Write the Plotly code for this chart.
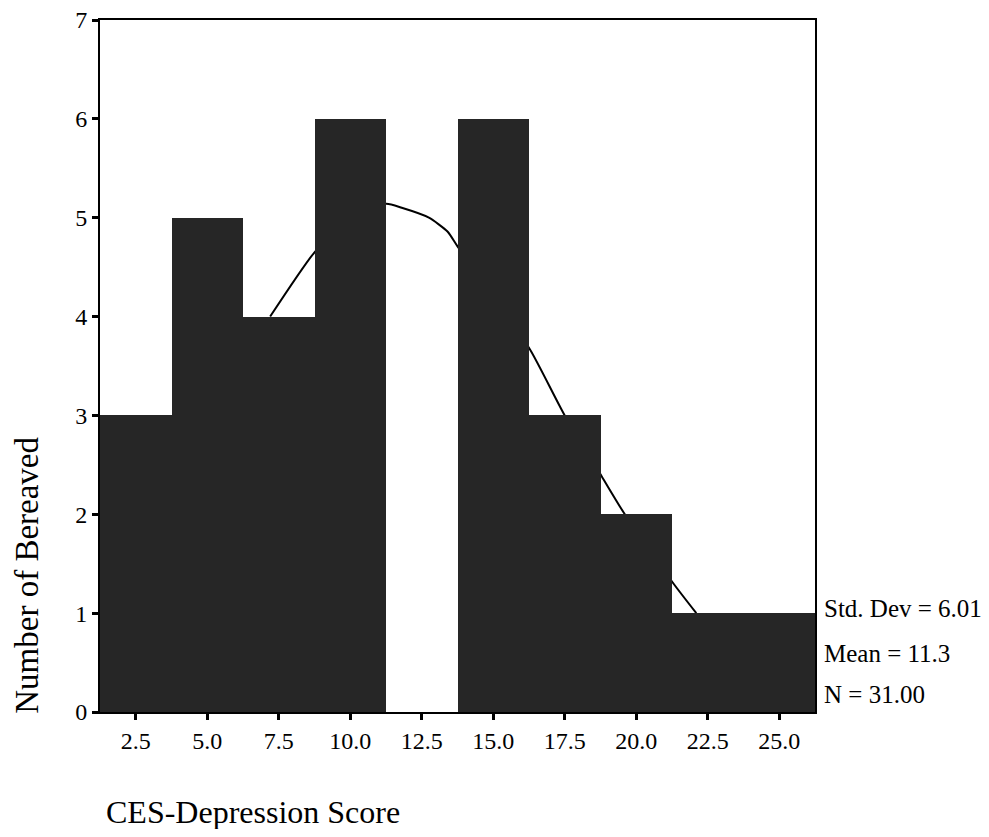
import plotly.graph_objects as go

# Histogram bins (bin midpoints) and counts
bin_mids = [2.5, 5.0, 7.5, 10.0, 12.5, 15.0, 17.5, 20.0, 22.5, 25.0]
counts = [3, 5, 4, 6, 0, 6, 3, 2, 1, 1]
bin_width = 2.5

# Normal curve points
curve_x = [7.2, 8.75, 10.0, 11.25, 11.8, 12.75, 13.4, 13.75, 15.0, 16.3, 17.5, 18.8, 19.6, 21.3, 22.1]
curve_y = [4.0, 4.65, 5.0, 5.14, 5.1, 5.0, 4.86, 4.71, 4.2, 3.66, 3.0, 2.38, 2.0, 1.3, 1.0]

tick_vals = [2.5, 5.0, 7.5, 10.0, 12.5, 15.0, 17.5, 20.0, 22.5, 25.0]
tick_text = ["2.5", "5.0", "7.5", "10.0", "12.5", "15.0", "17.5", "20.0", "22.5", "25.0"]
y_ticks = [0, 1, 2, 3, 4, 5, 6, 7]

stats_lines = ["Std. Dev = 6.01", "Mean = 11.3", "N = 31.00"]
x_title = "CES-Depression Score"
y_title = "Number of Bereaved"

FONT = "Liberation Serif, Times New Roman, serif"
BAR_COLOR = "#262626"

fig = go.Figure()

fig.add_trace(go.Scatter(
    x=curve_x, y=curve_y, mode="lines",
    line=dict(color="black", width=2, shape="spline", smoothing=0.6),
    hoverinfo="skip", showlegend=False, xaxis="x", yaxis="y"))

fig.add_trace(go.Bar(
    x=bin_mids, y=counts, width=bin_width,
    marker=dict(color=BAR_COLOR, line=dict(width=0)),
    showlegend=False, xaxis="x2", yaxis="y2"))

xr = [bin_mids[0] - bin_width / 2, bin_mids[-1] + bin_width / 2]
yr = [0, 7]

fig.update_layout(
    width=973, height=821,
    margin=dict(l=92, r=166, t=12, b=117),
    paper_bgcolor="white", plot_bgcolor="white",
    font=dict(family=FONT, size=24, color="black"),
    bargap=0,
    xaxis=dict(range=xr, tickvals=tick_vals, ticktext=tick_text, automargin=False,
               ticklabeloverflow="allow",
               showline=True, linecolor="black", linewidth=2, mirror=True,
               ticks="outside", ticklen=6, tickwidth=3, tickcolor="black",
               showgrid=False, zeroline=False, tickfont=dict(size=24)),
    yaxis=dict(range=yr, tickvals=y_ticks, automargin=False,
               ticklabeloverflow="allow",
               showline=True, linecolor="black", linewidth=2, mirror=True,
               ticks="outside", ticklen=6, tickwidth=3, tickcolor="black",
               showgrid=False, zeroline=False, tickfont=dict(size=24)),
    xaxis2=dict(range=xr, overlaying="x", visible=False, automargin=False),
    yaxis2=dict(range=yr, overlaying="y", visible=False, automargin=False),
)

annotations = [
    dict(text=x_title, xref="paper", yref="paper", x=0.005, y=-0.145,
         xanchor="left", yanchor="middle", showarrow=False, font=dict(size=32)),
    dict(text=y_title, xref="paper", yref="paper", x=-0.102, y=0.197,
         xanchor="center", yanchor="middle", textangle=-90, showarrow=False,
         font=dict(size=33)),
]
for txt, yy in zip(stats_lines, [0.150, 0.085, 0.0246]):
    annotations.append(dict(text=txt, xref="paper", yref="paper", x=1.01, y=yy,
                            xanchor="left", yanchor="middle", showarrow=False,
                            font=dict(size=25)))
fig.update_layout(annotations=annotations)

fig.write_html("out.html")
